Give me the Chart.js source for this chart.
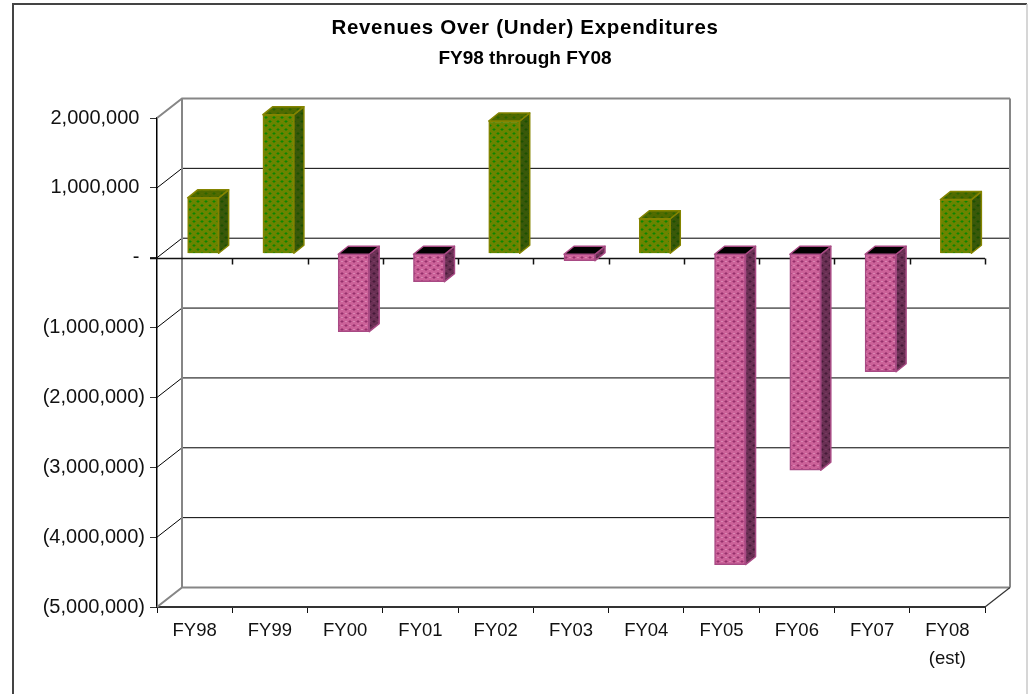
<!DOCTYPE html>
<html><head><meta charset="utf-8">
<style>html,body{margin:0;padding:0;background:#fff}canvas{display:block}</style>
<script src="https://cdn.jsdelivr.net/npm/chart.js@4/dist/chart.umd.min.js"></script>
</head><body><div style="width:1028px;height:694px"><canvas id="c" width="1028" height="694"></canvas></div>
<script>
const categories = ['FY98','FY99','FY00','FY01','FY02','FY03','FY04','FY05','FY06','FY07',['FY08','(est)']];
const revenuesOverUnder = [800000,1990000,-1115000,-400000,1900000,-100000,500000,-4450000,-3100000,-1690000,775000];
const titleLines = ['Revenues Over (Under) Expenditures','FY98 through FY08'];
const FONT = '"Liberation Sans", Arial, sans-serif';

function tile(base, a, b){
  const t=document.createElement('canvas'); t.width=t.height=8;
  const g=t.getContext('2d');
  g.fillStyle=base; g.fillRect(0,0,8,8);
  g.fillStyle=a;
  [[1,0],[0,1],[1,1],[2,1],[1,2],[5,4],[4,5],[5,5],[6,5],[5,6]].forEach(p=>g.fillRect(p[0],p[1],1,1));
  g.fillStyle=b;
  [[5,1],[1,5]].forEach(p=>g.fillRect(p[0],p[1],1,1));
  return g.createPattern(t,'repeat');
}
const front = {
  pos: tile('#6a8400','#0c8600','#808000'),
  neg: tile('#cc6299','#96306c','#e8a8cc')
};
const side = {
  pos: tile('#38580a','#1c5000','#3f6000'),
  neg: tile('#6a3054','#451a38','#80486c')
};
const topFace = {pos: tile('#4f6a00','#2e6400','#5c6e00'), neg:'#000000'};
const edge = {pos:'#848400', neg:'#a84a84'};
const sign = c => c.raw >= 0 ? 'pos' : 'neg';

const DX=25, DY=-19.5;          // wall depth
const BX=8.5, BY=-4;            // bar plane offset from the front plane
const SX=10, SY=-8;             // bar depth

const walls = {
  id:'walls',
  beforeDraw(ch){
    const tb=ch.titleBlock, orig=tb.draw;
    if(!tb._spaced){
      tb._spaced=true;
      tb.draw=function(){ch.ctx.save(); ch.ctx.letterSpacing='0.7px'; orig.apply(tb,arguments); ch.ctx.restore();};
    }
  },
  beforeDatasetsDraw(ch){
    const {ctx,chartArea:a,scales:{x,y}}=ch;
    ctx.save();
    ctx.strokeStyle='#444'; ctx.lineWidth=2;
    ctx.beginPath(); ctx.moveTo(13,694); ctx.lineTo(13,4); ctx.lineTo(1027,4); ctx.stroke();
    ctx.strokeStyle='#c8c8c8'; ctx.lineWidth=1.5;
    ctx.beginPath(); ctx.moveTo(1027,4); ctx.lineTo(1027,694); ctx.stroke();
    y.ticks.forEach(t=>{
      const py=y.getPixelForValue(t.value);
      const edgeTick=t.value===y.min||t.value===y.max;
      ctx.strokeStyle=edgeTick?'#868686':'#000'; ctx.lineWidth=edgeTick?2:1;
      ctx.beginPath(); ctx.moveTo(a.left,py); ctx.lineTo(a.left+DX,py+DY);
      ctx.lineTo(a.right+DX,py+DY); ctx.stroke();
    });
    ctx.strokeStyle='#868686'; ctx.lineWidth=2;
    ctx.beginPath();
    ctx.moveTo(a.left+DX,a.top+DY); ctx.lineTo(a.left+DX,a.bottom+DY);
    ctx.moveTo(a.right+DX,a.top+DY); ctx.lineTo(a.right+DX,a.bottom+DY);
    ctx.stroke();
    ctx.lineWidth=1.2;
    ctx.beginPath(); ctx.moveTo(a.right,a.bottom); ctx.lineTo(a.right+DX,a.bottom+DY); ctx.strokeStyle='#333'; ctx.stroke();
    const z=Math.round(y.getPixelForValue(0))+.5;
    ctx.strokeStyle='#111'; ctx.lineWidth=1.5;
    ctx.beginPath(); ctx.moveTo(a.left-7,z); ctx.lineTo(a.right,z);
    const w=(a.right-a.left)/categories.length;
    categories.forEach((c,i)=>{const px=Math.round(x.getPixelForValue(i)+w/2)+.5; ctx.moveTo(px,z); ctx.lineTo(px,z+6);});
    ctx.stroke();
    ctx.restore();
  },
  beforeDatasetDraw(ch){ ch.ctx.save(); ch.ctx.translate(BX,BY); },
  afterDatasetDraw(ch,args){
    const ctx=ch.ctx;
    args.meta.data.forEach((b,i)=>{
      const v=revenuesOverUnder[i], k=v>=0?'pos':'neg';
      const p=b.getProps(['x','y','base','width'],true);
      const l=p.x-p.width/2, r=p.x+p.width/2, t=Math.min(p.y,p.base), bt=Math.max(p.y,p.base);
      ctx.lineWidth=1.5; ctx.strokeStyle=edge[k]; ctx.lineJoin='round';
      ctx.fillStyle=side[k];
      ctx.beginPath(); ctx.moveTo(r,t); ctx.lineTo(r+SX,t+SY); ctx.lineTo(r+SX,bt+SY); ctx.lineTo(r,bt); ctx.closePath(); ctx.fill(); ctx.stroke();
      ctx.fillStyle=topFace[k];
      ctx.beginPath(); ctx.moveTo(l,t); ctx.lineTo(l+SX,t+SY); ctx.lineTo(r+SX,t+SY); ctx.lineTo(r,t); ctx.closePath(); ctx.fill(); ctx.stroke();
    });
    ctx.restore();
  }
};

new Chart(document.getElementById('c'),{
  type:'bar',
  plugins:[walls],
  data:{labels:categories,datasets:[{
    data:revenuesOverUnder,
    clip:false,
    barThickness:31,
    backgroundColor:c=>front[sign(c)],
    borderColor:c=>edge[sign(c)],
    borderWidth:1.5
  }]},
  options:{
    responsive:false,animation:false,
    layout:{padding:{left:22,right:0,top:0,bottom:0}},
    plugins:{
      legend:{display:false},tooltip:{enabled:false},
      title:{display:true,text:titleLines[0],color:'#000',
        font:{family:FONT,size:20.5,weight:'bold',lineHeight:'20px'},padding:{top:18,bottom:0}},
      subtitle:{display:true,text:titleLines[1],color:'#000',
        font:{family:FONT,size:19,weight:'bold',lineHeight:'20px'},padding:{top:11,bottom:49}}
    },
    scales:{
      x:{
        afterFit(s){s.height=87;},
        grid:{offset:true,drawOnChartArea:false,tickLength:6,color:'#111',lineWidth:1},
        border:{color:'#333',width:2},
        ticks:{color:'#111',maxRotation:0,autoSkip:false,padding:4,font:{family:FONT,size:18.5,lineHeight:1.5}}
      },
      y:{
        min:-5000000,max:2000000,
        afterFit(s){s.width=135;},
        grid:{drawOnChartArea:false,tickLength:7,color:'#333',lineWidth:1},
        border:{color:'#000',width:1.5},
        ticks:{stepSize:1000000,color:'#111',padding:5,font:{family:FONT,size:20},
          callback:v=>v===0?'- ':v<0?'('+Math.abs(v).toLocaleString('en-US')+')':v.toLocaleString('en-US')+' '}
      },
      rightMargin:{
        position:'right',display:true,
        afterFit(s){s.width=43;},
        grid:{display:false},border:{display:false},ticks:{display:false}
      }
    }
  }
});
</script></body></html>
